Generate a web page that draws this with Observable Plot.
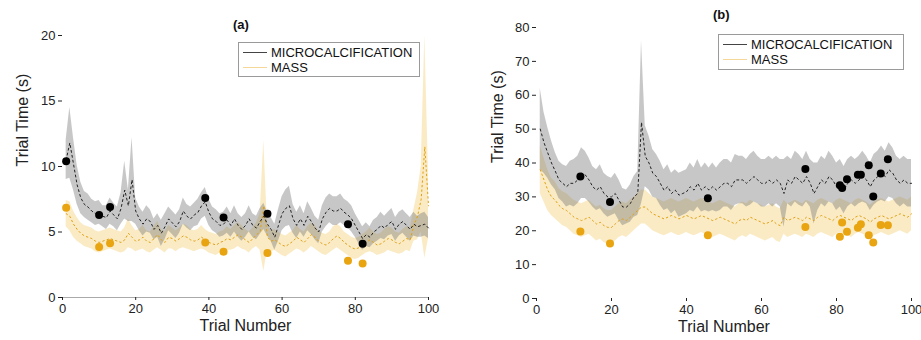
<!DOCTYPE html>
<html>
<head>
<meta charset="utf-8">
<script src="https://cdn.jsdelivr.net/npm/d3@7"></script>
<script src="https://cdn.jsdelivr.net/npm/@observablehq/plot@0.6"></script>
<style>
  body { margin: 0; background: #fff; font-family: "Liberation Sans", Arial, sans-serif; }
  #wrap { position: relative; width: 921px; height: 340px; overflow: hidden; }
  .panel { position: absolute; top: 0; }
  .title { position: absolute; font-size: 13px; font-weight: bold; color: #111; }
  .legend { position: absolute; border: 1px solid #9a9a9a; background: #fff; font-size: 13px; color: #111; }
  .legend .row { position: absolute; left: 0; display: flex; align-items: center; white-space: nowrap; line-height: 15px; }
  .legend .sw { width: 24px; height: 0; margin-left: 4px; margin-right: 4px; }
</style>
</head>
<body>
<div id="wrap"></div>
<script>
// ---------- data ----------
const trials = d3.range(1, 101);
const seriesNames = ["MICROCALCIFICATION", "MASS"];
const panelTitles = ["(a)", "(b)"];
const xLabel = "Trial Number";
const yLabel = "Trial Time (s)";

// Panel (a) — microcalcification mean and half-width of band (s)
const aMicroMean = [10.5,11.8,10.2,8.6,7.6,7.1,6.9,6.6,6.4,6.5,
 6.2,6.1,6.6,6.3,6.0,6.8,8.2,7.0,9.0,6.6,
 6.0,5.6,6.0,5.8,5.2,5.5,4.9,5.4,6.0,5.7,
 5.4,5.8,6.6,6.2,6.0,6.3,6.5,7.0,7.3,6.5,
 6.0,5.8,5.5,5.6,5.9,5.5,6.0,5.5,5.2,5.5,
 6.0,5.5,5.3,5.8,6.2,5.6,5.2,4.6,5.5,6.4,
 6.8,7.0,6.0,5.5,6.0,5.5,6.2,5.8,5.3,5.0,
 6.0,6.5,6.8,6.6,6.6,6.8,6.5,6.3,6.0,5.5,
 5.0,4.5,4.8,4.6,5.0,5.2,5.5,5.3,5.6,5.8,
 5.2,5.6,5.8,5.5,5.2,5.6,5.4,5.5,5.6,5.3];
const aMicroHW = [1.5,2.7,2.0,1.5,1.2,1.0,1.0,0.9,0.9,0.9,
 0.8,0.9,1.0,0.9,0.9,1.2,2.2,1.2,3.2,1.0,
 0.9,0.9,1.0,0.9,0.8,0.9,1.0,1.0,0.9,0.9,
 0.9,0.9,1.0,0.9,0.9,0.9,1.0,1.0,1.1,1.0,
 0.9,0.9,0.9,0.9,1.0,0.9,1.0,0.9,0.9,0.9,
 1.0,0.9,0.9,1.0,1.0,0.9,0.9,1.0,1.2,1.3,
 1.4,1.5,1.1,1.0,1.0,0.9,1.1,1.0,0.9,0.9,
 1.0,1.1,1.1,1.1,1.1,1.1,1.0,1.0,1.0,0.9,
 0.9,0.9,0.9,0.8,0.9,0.9,1.0,0.9,0.9,1.0,
 0.9,0.9,0.9,0.9,0.9,0.9,0.8,0.9,0.9,0.8];
// Panel (a) — mass
const aMassMean = [6.4,6.2,5.6,5.2,4.9,4.7,4.6,4.5,4.3,4.2,
 4.3,4.4,4.5,4.4,4.3,4.2,4.4,4.9,4.6,4.3,
 4.4,4.6,4.3,4.2,4.5,4.8,4.4,4.2,4.6,4.5,
 4.3,4.5,4.7,4.6,4.4,4.3,4.4,4.6,4.4,4.2,
 4.1,4.0,4.2,4.3,4.5,4.4,4.6,4.8,4.6,4.4,
 4.2,4.5,4.8,5.0,7.0,4.6,4.3,4.4,4.2,4.0,
 3.9,4.1,4.3,4.6,4.4,4.2,4.5,4.8,4.6,4.3,
 4.1,4.0,4.2,4.5,4.7,4.5,4.2,4.0,3.8,3.7,
 3.8,4.0,4.2,4.4,4.2,4.0,4.1,4.3,4.5,4.4,
 4.2,4.1,4.3,4.5,4.4,5.5,6.2,7.5,11.5,7.0];
const aMassHW = [1.0,1.1,1.0,0.9,0.8,0.8,0.8,0.8,0.8,0.8,
 0.8,0.8,0.8,0.8,0.8,0.8,0.9,1.1,0.9,0.8,
 0.8,0.9,0.8,0.8,0.9,1.0,0.8,0.8,0.9,0.8,
 0.8,0.8,0.9,0.9,0.8,0.8,0.8,0.9,0.8,0.8,
 0.8,0.8,0.8,0.8,0.9,0.8,0.9,0.9,0.9,0.8,
 0.8,0.8,0.9,1.4,5.0,1.0,0.8,0.8,0.8,0.8,
 0.8,0.8,0.8,0.9,0.8,0.8,0.9,0.9,0.9,0.8,
 0.8,0.8,0.8,0.9,0.9,0.9,0.8,0.8,0.8,0.8,
 0.8,0.8,0.8,0.9,0.8,0.8,0.8,0.9,0.9,0.9,
 0.8,0.8,0.9,0.9,0.9,1.2,1.8,2.5,8.5,2.5];
// Panel (a) — highlighted trials
const aDotTrials = [1,10,13,39,44,56,78,82];
const aDotMicro = [10.4,6.3,6.9,7.6,6.1,6.4,5.6,4.1];
const aDotMass = [6.85,3.85,4.15,4.2,3.5,3.4,2.8,2.6];

// Panel (b) — microcalcification
const bMicroMean = [50,46,43,40,37.6,35,34,33,34,34,
 35,37,36.5,35,33,32,33,31,30,30,
 31,29,27,27,28,30,31,52,42,40,
 37,36,34,32,33,31,32,30.5,31,31.5,
 33,32,34,32,33,32,33,32,33,34,
 34,33,35,35,35,34,35,36,35,34,
 34,35,34,35,34,31,35,34,36,35,
 34,36,34,31,33,35,34,36,35,33,
 34,32,34,35,34,35,36,35,33,35,
 36,37,36,38,37,35,34,35,34,34];
const bMicroHW = [12,9,7.5,6.5,5.5,5.5,5.5,6,6.5,7,
 7,7.5,7,6.5,6,6,6.5,6,6,5.5,
 6,6,5.5,5,5.5,6,6.5,24,9,8,
 7,6.5,6.5,6,6.5,6,6,6.5,6.5,6.5,
 7,6.5,7,6.5,7,6.5,7,6.5,7,7,
 7,7,7.5,7,7,7,7.5,7.5,7,7,
 7,7,7,7,7,10,7,7,7.5,7.5,
 7,7.5,7,9,7,7,7,7.5,7,7,
 7,7,7,7,7,7,7.5,7,7,7.5,
 7.5,8,7.5,8,7.5,7,7,7,7,7];
// Panel (b) — mass
const bMassMean = [38,35,32,30,29,27.5,26.5,26,25,24,
 23.5,23,23.5,24,23,22,22.5,21.5,21,21,
 22,23,23.5,23,24,25,26,27,27,26,
 25,24.5,24,23.5,24,24.5,24,23.5,24,24.5,
 24,23.5,24,24.5,24,23.5,23,23.5,24,23.5,
 23,22.5,22,23,23.5,23,24,23.5,23,22.5,
 22,22.5,23,22,21.5,24,23,23.5,24,23.5,
 23,24,23.5,23,24,24.5,24,23.5,23,24,
 24.5,24,23.5,23,24,24.5,24,23.5,22.5,23.5,
 24,24.5,24,23.5,24,24.5,25,24.5,24,25];
const bMassHW = [7,6.5,6,5.5,5.5,5,5,5,5,5,
 5,5,5,5,5,5,5,5,5,5,
 5,5,5,5,5,5,5,5,5,5,
 5,5,5,5,5,5,5,5,5,5,
 5,5,5,5,5,5,5,5,5,5,
 5,5,5,5,5,5,5,5,5,5,
 5,5,5,5,5,5,5,5,5,5,
 5,5,5,5,5,5,5,5,5,5,
 5,5,5,5,5,5,5,5,5,5,
 5,5,5,5,5,5,5,5,5,5];
// Panel (b) — highlighted trials
const bDotTrials = [11.7,19.6,45.7,71.7,80.9,81.5,82.8,85.7,86.5,88.6,89.8,91.8,93.7];
const bDotMicro = [36.0,28.5,29.6,38.2,33.4,32.6,35.2,36.5,36.5,39.3,30.1,36.9,41.1];
const bDotMass = [19.8,16.2,18.7,21.1,18.2,22.4,19.7,20.9,21.9,18.7,16.5,21.7,21.6];

const xTicks = [0,20,40,60,80,100];
const aYTicks = [0,5,10,15,20];
const bYTicks = [0,10,20,30,40,50,60,70,80];

// ---------- drawing ----------
const microBand = "#7a7a7a";
const massColor = "#EDB120";
const font = '"Liberation Sans", Arial, sans-serif';

function rows(mean, hw) {
  return trials.map((t, i) => ({t, m: mean[i], lo: mean[i] - hw[i], hi: mean[i] + hw[i]}));
}

function panel(opts) {
  const micro = rows(opts.microMean, opts.microHW);
  const mass = rows(opts.massMean, opts.massHW);
  const dMicro = opts.dotT.map((t, i) => ({t, v: opts.dotMicro[i]}));
  const dMass = opts.dotT.map((t, i) => ({t, v: opts.dotMass[i]}));
  const marks = [
    Plot.areaY(mass, {x: "t", y1: "lo", y2: "hi", fill: massColor, fillOpacity: 0.26}),
    Plot.areaY(micro, {x: "t", y1: "lo", y2: "hi", fill: microBand, fillOpacity: 0.42}),
    Plot.line(mass, {x: "t", y: "m", stroke: "#E0A010", strokeWidth: 1, strokeDasharray: "1.5,3"}),
    Plot.line(micro, {x: "t", y: "m", stroke: "#222", strokeWidth: 1, strokeDasharray: "2,3"}),
    Plot.dot(dMass, {x: "t", y: "v", r: 4, fill: "#E9A412", stroke: "none"}),
    Plot.dot(dMicro, {x: "t", y: "v", r: 4, fill: "#000", stroke: "none"}),
    Plot.axisY({ticks: opts.yTicks, tickSize: 4, tickPadding: 3, fontSize: 13, label: null}),
    Plot.axisX({ticks: xTicks, tickSize: 3, tickPadding: 3, fontSize: 13, label: null}),
    Plot.text([xLabel], {frameAnchor: "bottom", dy: 33, fontSize: 16, fill: "#222"}),
    Plot.text([yLabel], {frameAnchor: "left", dx: -opts.yLabelOffset, rotate: -90, fontSize: 16, fill: "#222"})
  ];
  if (opts.xLine) marks.unshift(Plot.ruleY([0], {stroke: "#aaa"}));
  return Plot.plot({
    width: opts.width, height: 340,
    marginLeft: opts.ml, marginRight: opts.mr, marginTop: opts.mt, marginBottom: opts.mb,
    style: {fontFamily: font, fontSize: "13px", color: "#222", background: "transparent", overflow: "visible"},
    x: {domain: [0, 100]},
    y: {domain: opts.yDomain},
    marks
  });
}

const wrap = document.getElementById("wrap");

const pa = panel({width: 460, ml: 62, mr: 32, mt: 35, mb: 43, yDomain: [0, 20], yTicks: aYTicks,
  yLabelOffset: 40, xLine: true,
  microMean: aMicroMean, microHW: aMicroHW, massMean: aMassMean, massHW: aMassHW,
  dotT: aDotTrials, dotMicro: aDotMicro, dotMass: aDotMass});
pa.classList.add("panel"); pa.style.left = "0px";
wrap.appendChild(pa);

const pb = panel({width: 461, ml: 76, mr: 10, mt: 27, mb: 42, yDomain: [0, 80], yTicks: bYTicks,
  yLabelOffset: 39, xLine: false,
  microMean: bMicroMean, microHW: bMicroHW, massMean: bMassMean, massHW: bMassHW,
  dotT: bDotTrials, dotMicro: bDotMicro, dotMass: bDotMass});
pb.classList.add("panel"); pb.style.left = "460px";
wrap.appendChild(pb);

// Panel label + legend boxes (HTML overlays)
function addTitle(text, x, y) {
  const d = document.createElement("div");
  d.className = "title"; d.textContent = text;
  d.style.left = x + "px"; d.style.top = y + "px";
  wrap.appendChild(d);
}
function addLegend(x, y, w, h) {
  const box = document.createElement("div");
  box.className = "legend";
  Object.assign(box.style, {left: x + "px", top: y + "px", width: w + "px", height: h + "px"});
  const colors = ["#444", "#F5D79A"];
  seriesNames.forEach((name, i) => {
    const r = document.createElement("div");
    r.className = "row";
    r.style.top = (2 + i * 15) + "px";
    const sw = document.createElement("span");
    sw.className = "sw";
    sw.style.borderTop = "1px solid " + colors[i];
    const tx = document.createElement("span");
    tx.textContent = name;
    r.appendChild(sw); r.appendChild(tx);
    box.appendChild(r);
  });
  wrap.appendChild(box);
}
addTitle(panelTitles[0], 233, 17);
addTitle(panelTitles[1], 713, 7);
addLegend(238, 42, 180, 33);
addLegend(718, 34, 184, 34);
</script>
</body>
</html>
